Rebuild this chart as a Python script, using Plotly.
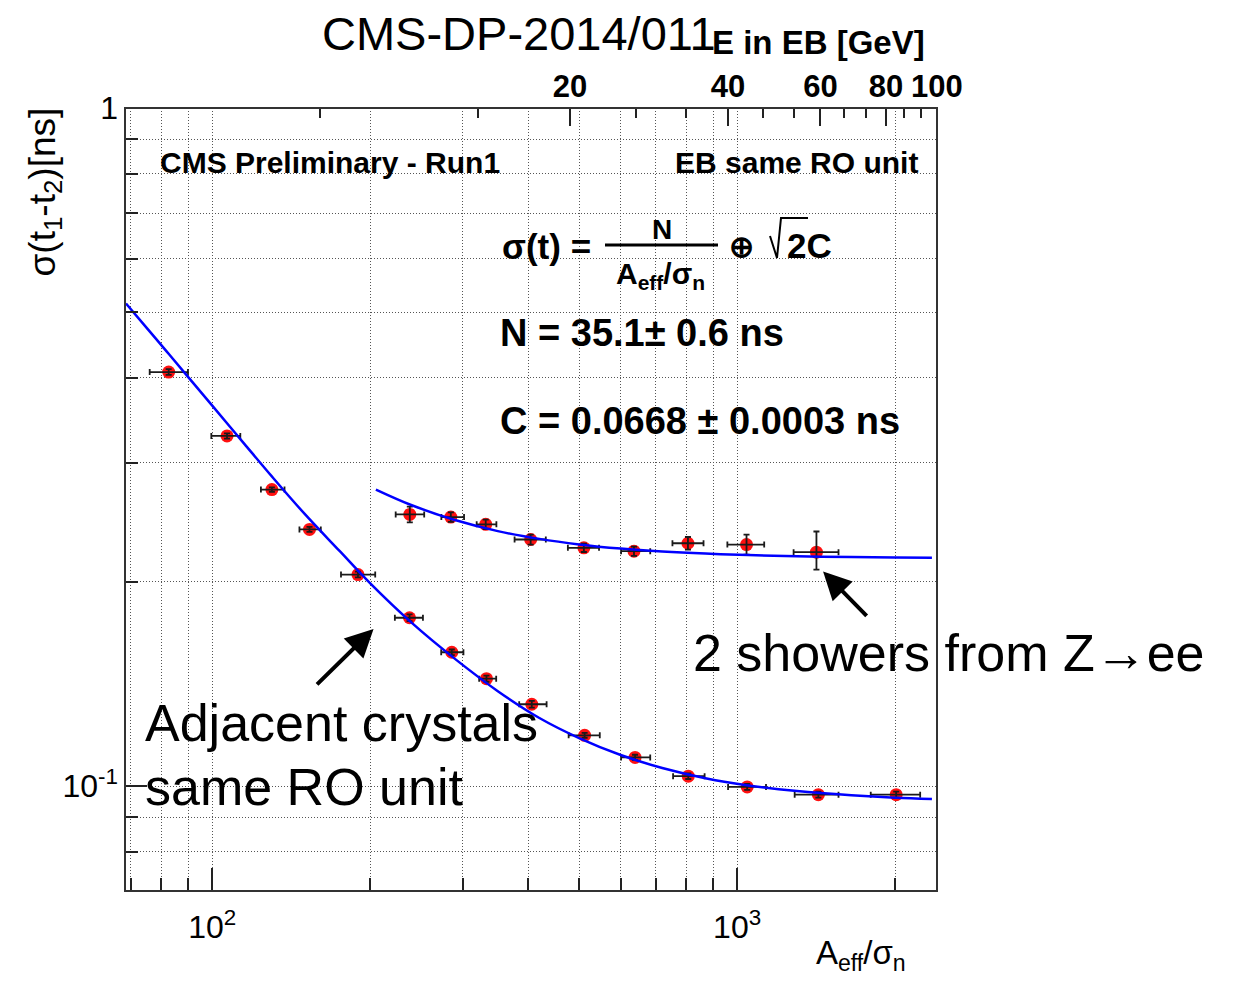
import math
import plotly.graph_objects as go

# ---------------- data ----------------
# Adjacent crystals, same RO unit
adj_x = [82.6, 106.7, 129.9, 153.2, 189.5, 237.6, 286.0, 333.0, 406.2, 512.2, 639.0, 807.0, 1045.0, 1428.0, 2009.0]
adj_x_minus = [6.6, 7.1, 6.1, 6.6, 13.6, 14.8, 13.0, 10.5, 21.8, 34.7, 38.0, 52.0, 84.0, 141.0, 212.0]
adj_x_plus = [7.3, 6.4, 7.4, 7.8, 14.9, 14.4, 15.0, 14.5, 27.3, 35.2, 44.0, 60.0, 90.0, 132.0, 223.0]
adj_y = [0.408, 0.3284, 0.2737, 0.2391, 0.2051, 0.1771, 0.1575, 0.1440, 0.1320, 0.1188, 0.1102, 0.1034, 0.0997, 0.0971, 0.0971]
adj_y_err = [0.004, 0.003, 0.002, 0.002, 0.002, 0.002, 0.0015, 0.0015, 0.0015, 0.001, 0.001, 0.001, 0.001, 0.001, 0.001]

# 2 showers from Z->ee
zee_x = [237.9, 284.8, 331.9, 404.2, 510.5, 636.0, 805.9, 1042.0, 1416.0]
zee_x_minus = [14.3, 11.6, 12.9, 27.5, 34.6, 35.0, 53.0, 84.0, 135.0]
zee_x_plus = [15.5, 17.0, 15.9, 27.8, 35.1, 47.0, 57.0, 84.0, 144.0]
zee_y = [0.2516, 0.2493, 0.2432, 0.2310, 0.2246, 0.2220, 0.2281, 0.2271, 0.2213]
zee_y_plus = [0.0068, 0.0040, 0.0039, 0.0039, 0.0032, 0.0035, 0.0049, 0.0077, 0.0161]
zee_y_minus = [0.0068, 0.0040, 0.0039, 0.0039, 0.0032, 0.0035, 0.0049, 0.0077, 0.0128]

# fitted curves
fit_adj_x = [68.5, 75, 82, 90, 100, 115, 130, 150, 175, 200, 240, 290, 350, 420, 500, 600, 720, 870, 1050, 1300, 1650, 2000, 2350]
fit_adj_y = [0.515, 0.474, 0.437, 0.401, 0.364, 0.320, 0.286, 0.252, 0.222, 0.199, 0.174, 0.154, 0.138, 0.126, 0.1177,
             0.1111, 0.1063, 0.1027, 0.1002, 0.0983, 0.0969, 0.0961, 0.0957]
fit_zee_x = [205, 240, 290, 350, 420, 500, 600, 720, 870, 1050, 1300, 1650, 2000, 2350]
fit_zee_y = [0.2737, 0.2595, 0.2468, 0.2377, 0.2315, 0.2272, 0.2240, 0.2218, 0.2202, 0.2191, 0.2182, 0.2176, 0.2173, 0.2171]

# axes
x_range = [68.2, 2403.0]
y_range = [0.07, 1.0005]
x_major = [100, 1000]
x_major_text = ["10<sup>2</sup>", "10<sup>3</sup>"]
x_minor = [70, 80, 90, 200, 300, 400, 500, 600, 700, 800, 900, 2000]
y_major = [0.1, 1]
y_major_text = ["10<sup>-1</sup>", "1"]
y_minor = [0.07, 0.08, 0.09, 0.2, 0.3, 0.4, 0.5, 0.6, 0.7, 0.8, 0.9]
e_scale = 24.03  # A_eff/sigma_n per GeV (top axis)
e_major = [20, 40, 60, 80, 100]
e_major_text = ["<b>20</b>", "<b>40</b>", "<b>60</b>", "<b>80</b>", "<b>100</b>"]
e_minor = [6.667, 13.333, 26.667, 33.333, 46.667, 53.333, 66.667, 73.333, 86.667, 93.333]

FONT = "Liberation Sans, Arial, Helvetica, sans-serif"
W, H = 1237, 982
L, R, T, B = 125, 937, 108, 891


def px(x):
    return (x - L) / (R - L)


def py(y):
    return (B - y) / (B - T)


fig = go.Figure()

fig.add_trace(go.Scatter(x=adj_x, y=adj_y, mode="markers",
                         marker=dict(color="#ff1010", size=13, line=dict(width=0))))
fig.add_trace(go.Scatter(x=zee_x, y=zee_y, mode="markers",
                         marker=dict(color="#ff1010", size=13, line=dict(width=0))))
fig.add_trace(go.Scatter(x=adj_x, y=adj_y, mode="markers", marker=dict(size=1, opacity=0),
                         error_x=dict(type="data", symmetric=False, array=adj_x_plus, arrayminus=adj_x_minus,
                                      color="#1a1a1a", thickness=1.8, width=3),
                         error_y=dict(type="data", array=adj_y_err, color="#1a1a1a", thickness=1.8, width=3)))
fig.add_trace(go.Scatter(x=zee_x, y=zee_y, mode="markers", marker=dict(size=1, opacity=0),
                         error_x=dict(type="data", symmetric=False, array=zee_x_plus, arrayminus=zee_x_minus,
                                      color="#1a1a1a", thickness=1.8, width=3),
                         error_y=dict(type="data", symmetric=False, array=zee_y_plus, arrayminus=zee_y_minus,
                                      color="#1a1a1a", thickness=1.8, width=3)))
fig.add_trace(go.Scatter(x=fit_adj_x, y=fit_adj_y, mode="lines", line=dict(color="#0000ff", width=2.5, shape="spline")))
fig.add_trace(go.Scatter(x=fit_zee_x, y=fit_zee_y, mode="lines", line=dict(color="#0000ff", width=2.5, shape="spline")))
# invisible trace to attach the top (energy) axis
fig.add_trace(go.Scatter(x=[e_major[0]], y=[0.5], xaxis="x2", mode="markers",
                         marker=dict(size=1, opacity=0), hoverinfo="skip"))

grid = dict(showgrid=True, gridcolor="#555555", gridwidth=1, griddash="1px,2px")

fig.update_layout(
    width=W, height=H,
    margin=dict(l=L, r=W - R, t=T, b=H - B, autoexpand=False),
    paper_bgcolor="white", plot_bgcolor="white",
    showlegend=False,
    font=dict(family=FONT, color="black"),
    xaxis=dict(type="log", range=[math.log10(x_range[0]), math.log10(x_range[1])],
               tickmode="array", tickvals=x_major, ticktext=x_major_text, tickangle=0,
               ticks="inside", ticklen=23, tickwidth=1.5, tickcolor="#222222",
               tickfont=dict(size=32, family=FONT), ticklabelstandoff=14,
               showline=False, zeroline=False, **grid,
               minor=dict(tickvals=x_minor, ticks="inside", ticklen=13, tickwidth=1.5, tickcolor="#222222", **grid)),
    yaxis=dict(type="log", range=[math.log10(y_range[0]), math.log10(y_range[1])],
               tickmode="array", tickvals=y_major, ticktext=y_major_text,
               ticks="inside", ticklen=22, tickwidth=1.5, tickcolor="#222222",
               tickfont=dict(size=32, family=FONT), ticklabelstandoff=6,
               showline=False, zeroline=False, **grid,
               minor=dict(tickvals=y_minor, ticks="inside", ticklen=13, tickwidth=1.5, tickcolor="#222222", **grid)),
    xaxis2=dict(type="log", overlaying="x", side="top", anchor="y",
                range=[math.log10(x_range[0] / e_scale), math.log10(x_range[1] / e_scale) + 0.0003],
                tickmode="array", tickvals=e_major, ticktext=e_major_text, tickangle=0,
                ticks="inside", ticklen=18, tickwidth=1.5, tickcolor="#222222",
                tickfont=dict(size=31, family=FONT), ticklabelstandoff=4,
                showgrid=False, showline=False, zeroline=False,
                minor=dict(tickvals=e_minor, ticks="inside", ticklen=10, tickwidth=1.5, tickcolor="#222222",
                           showgrid=False)),
)

shapes = [
    dict(type="rect", xref="paper", yref="paper", x0=0, x1=1, y0=0, y1=1,
         line=dict(color="#333333", width=2), layer="above"),
    # fraction bar
    dict(type="line", xref="paper", yref="paper", x0=px(605), x1=px(718), y0=py(245), y1=py(245),
         line=dict(color="black", width=3)),
    # radical sign
    dict(type="path", xref="paper", yref="paper",
         path=f"M {px(770)},{py(236)} L {px(777)},{py(258)} L {px(781)},{py(218)} L {px(808)},{py(218)}",
         line=dict(color="black", width=2)),
]
fig.update_layout(shapes=shapes)

ann = []


def text(t, x, y, size, xanchor="left", yanchor="middle", bold=False, **kw):
    if bold:
        t = f"<b>{t}</b>"
    ann.append(dict(text=t, x=px(x), y=py(y), xref="paper", yref="paper", showarrow=False,
                    xanchor=xanchor, yanchor=yanchor, font=dict(size=size, family=FONT, color="black"), **kw))


text("CMS-DP-2014/011", 320, 33, 47)
text("E in EB [GeV]", 927, 43, 33, xanchor="right", bold=True)
text("CMS Preliminary - Run1", 158, 163, 30, bold=True)
text("EB same RO unit", 920, 163, 30, xanchor="right", bold=True)
text("σ(t) =", 500, 247, 35, bold=True)
text("N", 662, 230, 28, xanchor="center", bold=True)
text("A<sub>eff</sub>/σ<sub>n</sub>", 660, 275, 30, xanchor="center", bold=True)
text("⊕", 741, 247, 30, xanchor="center", bold=True)
text("2C", 785, 245, 35, bold=True)
text("N = 35.1± 0.6 ns", 498, 333, 38, bold=True)
text("C = 0.0668 ± 0.0003 ns", 498, 421, 38, bold=True)
text("Adjacent crystals", 143, 723, 52)
text("same RO unit", 143, 787, 52)
text("2 showers from Z→ee", 691, 653, 52)
text("A<sub>eff</sub>/σ<sub>n</sub>", 908, 955, 33, xanchor="right")
ann.append(dict(text="σ(t<sub>1</sub>-t<sub>2</sub>)[ns]", x=px(45), y=py(106), xref="paper", yref="paper",
                showarrow=False, textangle=-90, xanchor="center", yanchor="top",
                font=dict(size=37, family=FONT, color="black")))

# arrows (tips in data coordinates, log axes)
ann.append(dict(text="", x=math.log10(202.9), y=math.log10(0.1705), xref="x", yref="y",
                showarrow=True, ax=-58, ay=57, arrowhead=2, arrowsize=1.4, arrowwidth=4, arrowcolor="black"))
ann.append(dict(text="", x=math.log10(1458), y=math.log10(0.2073), xref="x", yref="y",
                showarrow=True, ax=45, ay=46, arrowhead=2, arrowsize=1.4, arrowwidth=4, arrowcolor="black"))
fig.update_layout(annotations=ann)

fig.write_html("out.html")
